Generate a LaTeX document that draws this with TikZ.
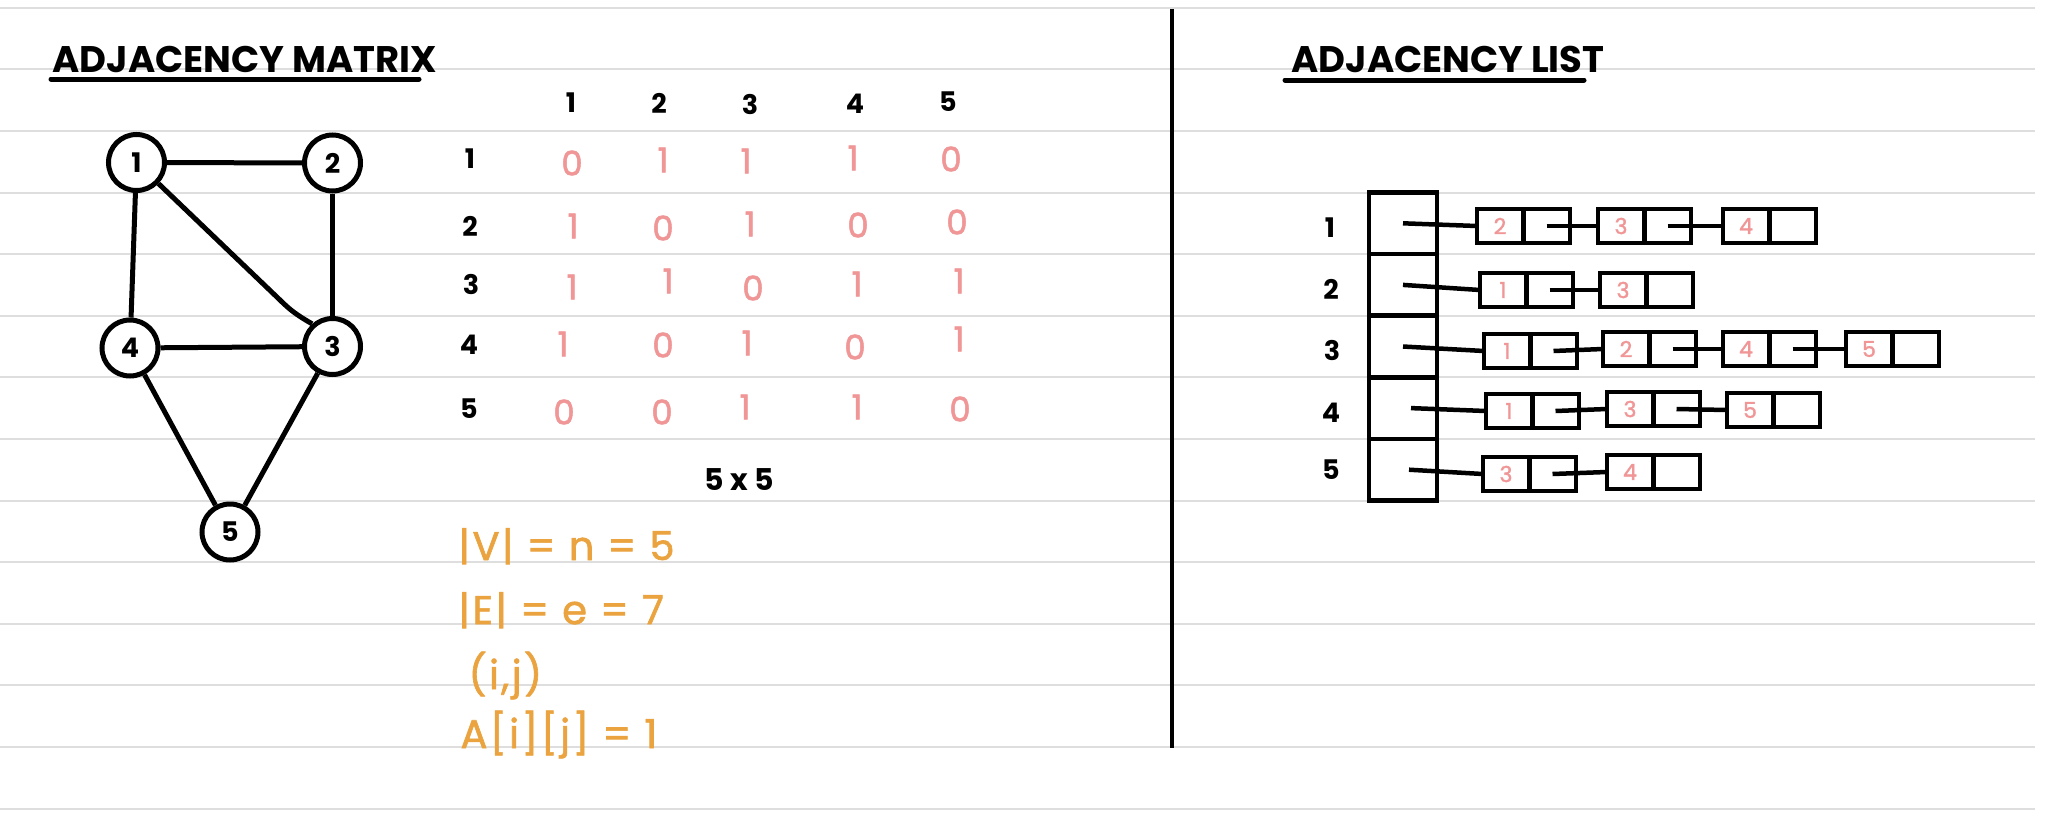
\documentclass[tikz,border=0pt]{standalone}
\usepackage{fontspec}
\setmainfont{Poppins}
\newfontfamily\inkfont[FakeBold=1.5]{Poppins}
\usetikzlibrary{positioning}

\definecolor{inkpink}{RGB}{240,150,150}
\definecolor{inkorange}{RGB}{234,163,62}
\definecolor{rulegray}{RGB}{222,222,222}

\tikzset{
    rule/.style={draw=rulegray, line width=2pt},
    heading/.style={font=\bfseries\fontsize{37}{37}\selectfont},
    underl/.style={line width=5pt, line cap=round},
    vertex/.style={shape=circle, draw, line width=5pt, minimum size=56pt, inner sep=0pt, font=\bfseries\fontsize{27}{27}\selectfont},
    gedge/.style={line width=5pt},
    idx/.style={font=\bfseries\fontsize{27}{27}\selectfont},
    entry/.style={text=inkpink, font=\inkfont\fontsize{34}{34}\selectfont},
    note/.style={anchor=base west, text=inkorange, font=\inkfont\fontsize{40}{40}\selectfont\addfontfeature{LetterSpace=6}},
    arrcell/.style={draw, line width=4.5pt, minimum width=68pt, minimum height=61.6pt, inner sep=0pt, outer sep=0pt},
    keycell/.style={draw, line width=4.5pt, minimum width=46.5pt, minimum height=34pt, inner sep=0pt, outer sep=0pt, text=inkpink, font=\inkfont\fontsize{22}{22}\selectfont},
    ptrcell/.style={draw, line width=4.5pt, minimum width=46.5pt, minimum height=34pt, inner sep=0pt, outer sep=0pt},
    link/.style={line width=4.5pt},
}

\begin{document}
\begin{tikzpicture}[x=1pt, y=1pt]
    \useasboundingbox (0,0) rectangle (2068,-816);
    \fill[white] (0,0) rectangle (2068,-816);

    % ruled paper
    \foreach \k in {0,...,13}
        \draw[rule] (0,{-7.8-61.6*\k}) -- (2035,{-7.8-61.6*\k});
    \draw[line width=3.5pt] (1172,-9) -- (1172,-748);

    % adjacency matrix side
    \node (tmat) [heading, anchor=base west] at (49,-72) {ADJACENCY MATRIX};
    \draw[underl] (51,-79) -- (419,-79);

    \node (n1) at (136.5,-162.5) [vertex] {1};
    \node (n2) at (332.5,-163) [vertex] {2};
    \node (n3) at (332.5,-346.5) [vertex] {3};
    \node (n4) at (130,-348) [vertex] {4};
    \node (n5) at (230,-532) [vertex] {5};
    \coordinate (bend13) at (280,-300);

    \draw[gedge] (n1) -- (n2);
    \draw[gedge] (n1) -- (n4);
    \draw[gedge] (n2) -- (n3);
    \draw[gedge] (n1) -- (bend13) to[out=-45, in=150] (n3.132);
    \draw[gedge] (n4) -- (n3);
    \draw[gedge] (n4) -- (n5);
    \draw[gedge] (n3) -- (n5);

    \node (c1) at (571,-103) [idx] {1};
    \node (c2) at (659,-103) [idx] {2};
    \node (c3) at (750,-104) [idx] {3};
    \node (c4) at (855,-104) [idx] {4};
    \node (c5) at (948,-102) [idx] {5};

    \node (r1) at (470,-159) [idx] {1};
    \node (r2) at (470,-226) [idx] {2};
    \node (r3) at (471,-284) [idx] {3};
    \node (r4) at (469,-345) [idx] {4};
    \node (r5) at (469,-409) [idx] {5};

    \node (m11) at (572,-163) [entry] {0};
    \node (m12) at (663,-160) [entry] {1};
    \node (m13) at (746,-161) [entry] {1};
    \node (m14) at (853,-158) [entry] {1};
    \node (m15) at (951,-159) [entry] {0};

    \node (m21) at (573,-226) [entry] {1};
    \node (m22) at (663,-228) [entry] {0};
    \node (m23) at (750,-224) [entry] {1};
    \node (m24) at (858,-225) [entry] {0};
    \node (m25) at (957,-222) [entry] {0};

    \node (m31) at (572,-287) [entry] {1};
    \node (m32) at (668,-281) [entry] {1};
    \node (m33) at (753,-288) [entry] {0};
    \node (m34) at (857,-284) [entry] {1};
    \node (m35) at (959,-281) [entry] {1};

    \node (m41) at (563,-344) [entry] {1};
    \node (m42) at (663,-345) [entry] {0};
    \node (m43) at (747,-343) [entry] {1};
    \node (m44) at (855,-347) [entry] {0};
    \node (m45) at (959,-339) [entry] {1};

    \node (m51) at (564,-412) [entry] {0};
    \node (m52) at (662,-412) [entry] {0};
    \node (m53) at (745,-407) [entry] {1};
    \node (m54) at (857,-407) [entry] {1};
    \node (m55) at (960,-409) [entry] {0};

    \node (dim) at (739,-480) [idx, font=\bfseries\fontsize{30}{30}\selectfont] {5 x 5};

    \node (nv) at (455,-560) [note] {|V| = n = 5};
    \node (ne) at (455,-624) [note] {|E| = e = 7};
    \node (ij) at (465,-689) [note] {(i,j)};
    \node (aij) at (457,-748) [note] {A[i][j] = 1};

    % adjacency list side
    \node (tlist) [heading, anchor=base west] at (1288,-73) {ADJACENCY LIST};
    \draw[underl] (1285,-80) -- (1584,-80);

    \node (l1) at (1330,-228) [idx] {1};
    \node (l2) at (1331,-289) [idx] {2};
    \node (l3) at (1332,-350) [idx] {3};
    \node (l4) at (1331,-413) [idx] {4};
    \node (l5) at (1331,-470) [idx] {5};

    \node (a1) at (1403,-223.3) [arrcell] {};
    \node (a2) [arrcell, below=0pt of a1] {};
    \node (a3) [arrcell, below=0pt of a2] {};
    \node (a4) [arrcell, below=0pt of a3] {};
    \node (a5) [arrcell, below=0pt of a4] {};

    \node (k11) at (1500,-226) [keycell] {2};
    \node (p11) [ptrcell, right=0pt of k11] {};
    \node (k12) at (1621,-226) [keycell] {3};
    \node (p12) [ptrcell, right=0pt of k12] {};
    \node (k13) at (1746,-226) [keycell] {4};
    \node (p13) [ptrcell, right=0pt of k13] {};

    \node (k21) at (1503,-290) [keycell] {1};
    \node (p21) [ptrcell, right=0pt of k21] {};
    \node (k22) at (1623,-290) [keycell] {3};
    \node (p22) [ptrcell, right=0pt of k22] {};

    \node (k31) at (1507,-351) [keycell] {1};
    \node (p31) [ptrcell, right=0pt of k31] {};
    \node (k32) at (1626,-349) [keycell] {2};
    \node (p32) [ptrcell, right=0pt of k32] {};
    \node (k33) at (1746,-349) [keycell] {4};
    \node (p33) [ptrcell, right=0pt of k33] {};
    \node (k34) at (1869,-349) [keycell] {5};
    \node (p34) [ptrcell, right=0pt of k34] {};

    \node (k41) at (1509,-411) [keycell] {1};
    \node (p41) [ptrcell, right=0pt of k41] {};
    \node (k42) at (1630,-409) [keycell] {3};
    \node (p42) [ptrcell, right=0pt of k42] {};
    \node (k43) at (1750,-410) [keycell] {5};
    \node (p43) [ptrcell, right=0pt of k43] {};

    \node (k51) at (1506,-474) [keycell] {3};
    \node (p51) [ptrcell, right=0pt of k51] {};
    \node (k52) at (1630,-472) [keycell] {4};
    \node (p52) [ptrcell, right=0pt of k52] {};

    \draw[link] (a1.center) -- (k11.west);
    \draw[link] (p11.center) -- (k12.west);
    \draw[link] (p12.center) -- (k13.west);

    \draw[link] (a2.center) -- (k21.west);
    \draw[link] (p21.center) -- (k22.west);

    \draw[link] (a3.center) -- (k31.west);
    \draw[link] (p31.center) -- (k32.west);
    \draw[link] (p32.center) -- (k33.west);
    \draw[link] (p33.center) -- (k34.west);

    \draw[link] ([xshift=8pt]a4.center) -- (k41.west);
    \draw[link] (p41.center) -- (k42.west);
    \draw[link] (p42.center) -- (k43.west);

    \draw[link] ([xshift=6pt]a5.center) -- (k51.west);
    \draw[link] (p51.center) -- (k52.west);
\end{tikzpicture}
\end{document}
